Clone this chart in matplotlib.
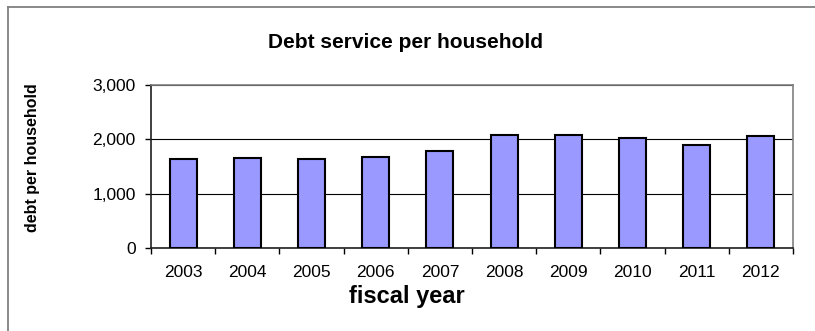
import matplotlib
matplotlib.use("Agg")
import matplotlib.pyplot as plt
from matplotlib.lines import Line2D

plt.rcParams['font.family'] = ['Liberation Sans', 'DejaVu Sans']

# Debt service per household by fiscal year
years = ['2003', '2004', '2005', '2006', '2007', '2008', '2009', '2010', '2011', '2012']
debt_service = [1638, 1650, 1632, 1669, 1785, 2074, 2080, 2018, 1896, 2055]

fig = plt.figure(figsize=(8.15, 3.31), dpi=100)
ax = fig.add_axes([151 / 815, 83 / 331, 642 / 815, 163 / 331])

x = range(len(years))
ax.bar(x, debt_service, width=0.42, color='#9999FF', edgecolor='black', linewidth=1.5, zorder=3)

ax.set_xlim(-0.5, len(years) - 0.5)
ax.set_ylim(0, 3000)
ax.set_yticks([0, 1000, 2000, 3000])
ax.set_yticklabels(['{:,}'.format(v) for v in [0, 1000, 2000, 3000]])
ax.yaxis.grid(True, color='black', linewidth=0.8, zorder=0)

# labels centred on the bars, tick marks on the category boundaries
ax.set_xticks(list(x))
ax.set_xticklabels(years)
ax.set_xticks([i - 0.5 for i in range(len(years) + 1)], minor=True)
ax.tick_params(axis='x', which='major', length=0, pad=12, labelsize=12.5)
ax.tick_params(axis='x', which='minor', length=4, width=1, direction='out')
ax.tick_params(axis='y', length=4, width=1, direction='out', pad=7, labelsize=12.5)

for side in ['top', 'right']:
    ax.spines[side].set_color('#808080')
    ax.spines[side].set_linewidth(1.2)
for side in ['left', 'bottom']:
    ax.spines[side].set_color('#202020')
    ax.spines[side].set_linewidth(1.2)

fig.text(406 / 815, 1 - 42 / 331, 'Debt service per household', ha='center', va='center',
         fontsize=15, fontweight='bold')
fig.text(33 / 815, 1 - 158 / 331, 'debt per household', ha='center', va='center',
         rotation=90, fontsize=11.5, fontweight='bold')
fig.text(407 / 815, 1 - 297 / 331, 'fiscal year', ha='center', va='center',
         fontsize=17, fontweight='bold')

# chart area border (top and left edges)
fig.add_artist(Line2D([8 / 815, 1], [1 - 7 / 331, 1 - 7 / 331], transform=fig.transFigure,
                      color='#808080', linewidth=1.3))
fig.add_artist(Line2D([8 / 815, 8 / 815], [0, 1 - 7 / 331], transform=fig.transFigure,
                      color='#808080', linewidth=1.3))

fig.savefig('out.png', dpi=100)
